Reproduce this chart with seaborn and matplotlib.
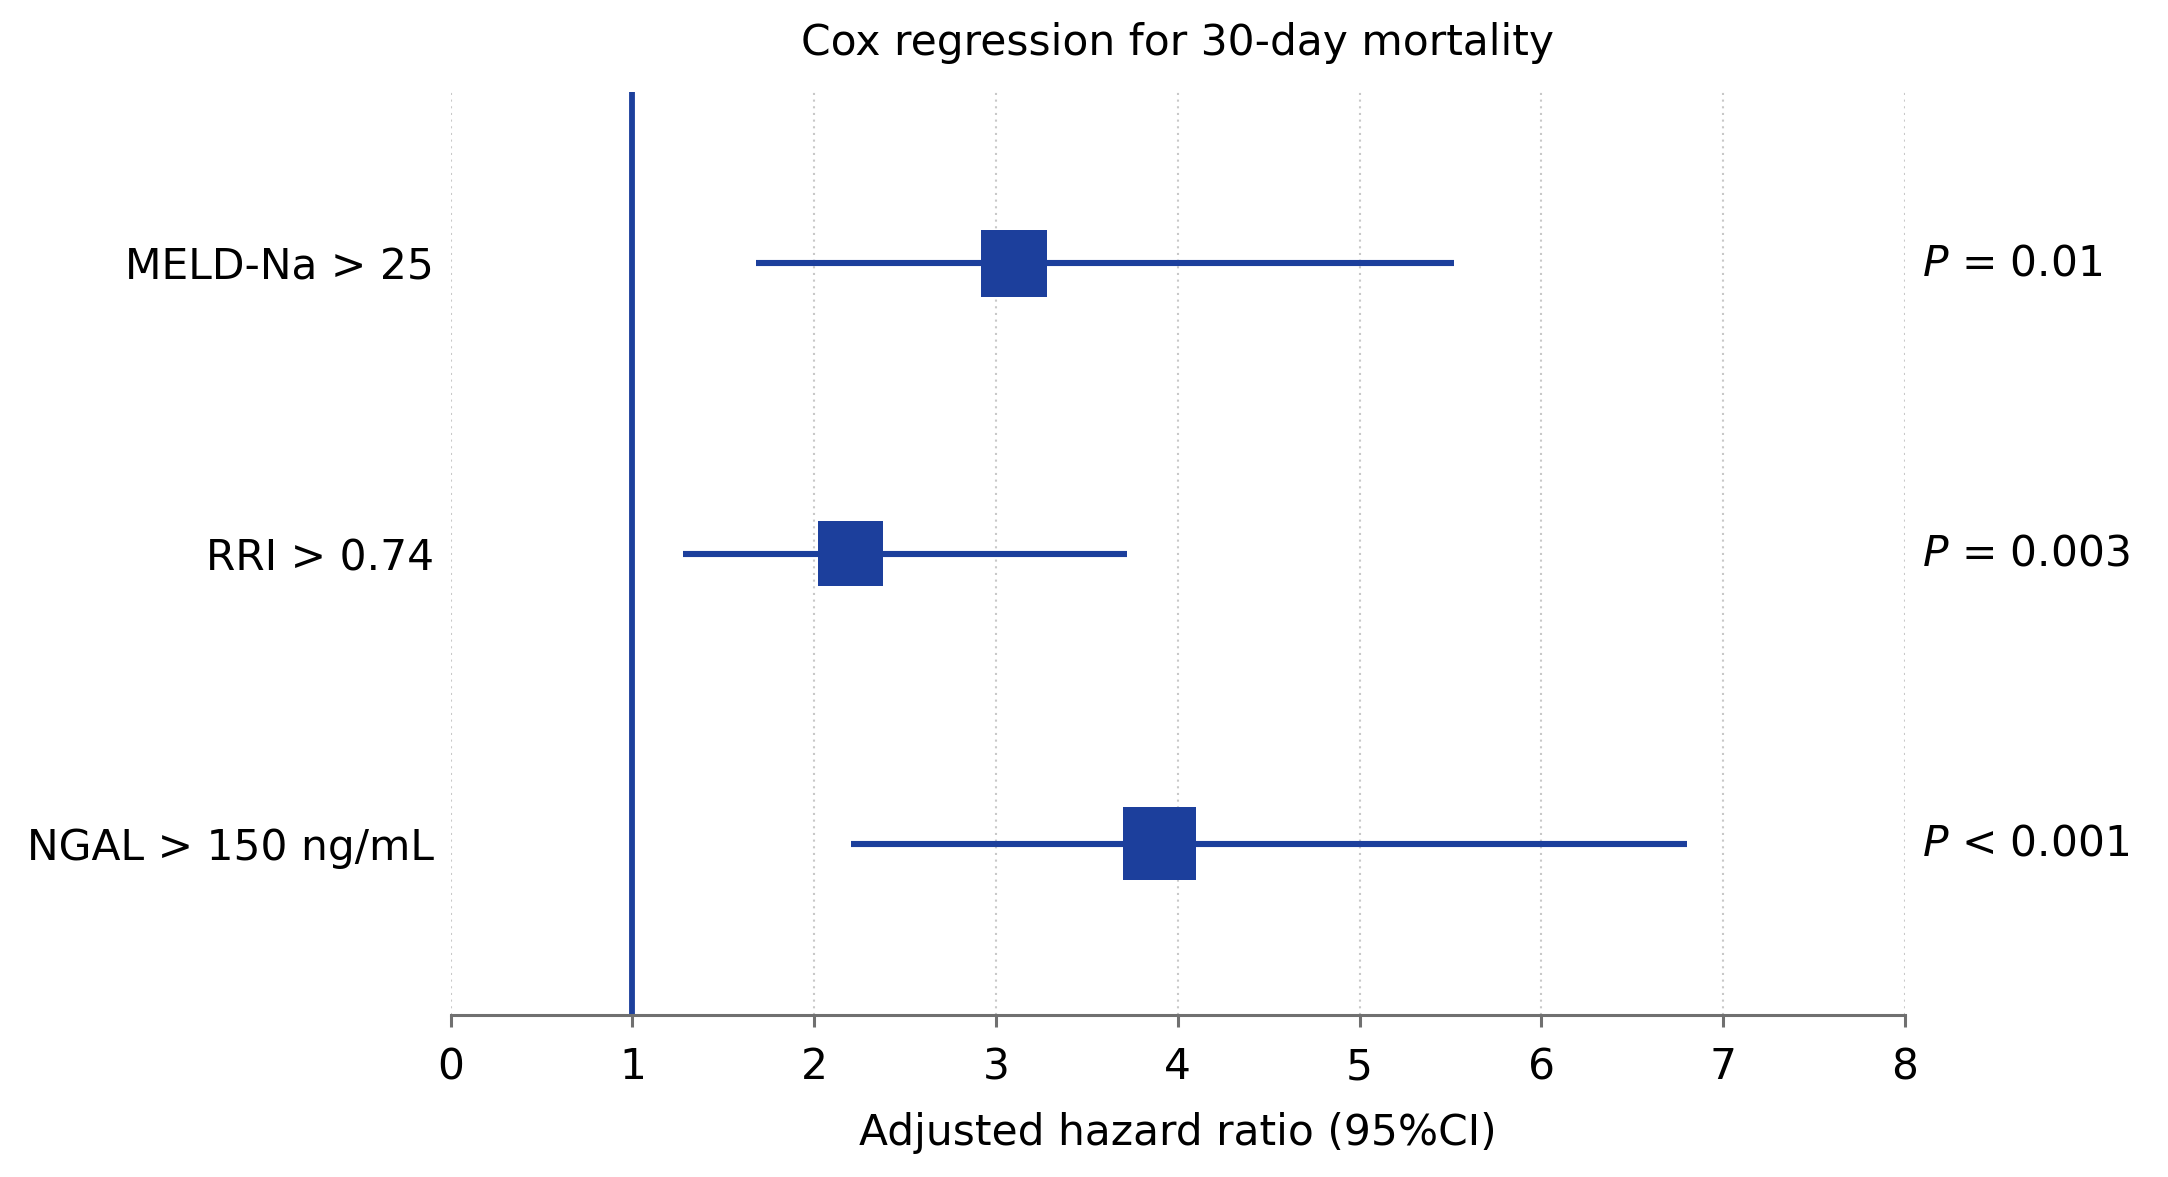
import numpy as np
import pandas as pd
import matplotlib
matplotlib.use("Agg")
import matplotlib.pyplot as plt
import seaborn as sns

# values
labels = ["MELD-Na > 25", "RRI > 0.74", "NGAL > 150 ng/mL"]
hazard_ratio = [3.10, 2.20, 3.90]
ci_low = [1.68, 1.28, 2.20]
ci_high = [5.52, 3.72, 6.80]
p_values = ["= 0.01", "= 0.003", "< 0.001"]
x_ticks = [0, 1, 2, 3, 4, 5, 6, 7, 8]

df = pd.DataFrame({
    "label": labels,
    "hr": hazard_ratio,
    "low": ci_low,
    "high": ci_high,
    "p": p_values,
})
df["pos"] = np.arange(len(df))

sns.set_style("white")
plt.rcParams["font.family"] = ["DejaVu Sans"]
plt.rcParams["font.size"] = 30.5
plt.rcParams["mathtext.fontset"] = "dejavusans"
plt.rcParams["text.color"] = "black"
plt.rcParams["axes.labelcolor"] = "black"
plt.rcParams["xtick.color"] = "black"
plt.rcParams["ytick.color"] = "black"

blue = "#1c3f9c"
box_side = [48, 47, 52.5]  # marker side in points

fig = plt.figure(figsize=(21.68, 11.77), dpi=100)
ax = fig.add_axes([0.2078, 0.1376, 0.6709, 0.7842])

for xt in x_ticks:
    ax.axvline(xt, color="#c8c8c8", lw=1.5, ls=(0, (1, 2.2)), zorder=0)

ax.axvline(1, color=blue, lw=4.2, zorder=2)
ax.hlines(df["pos"], df["low"], df["high"], color=blue, lw=4.4, zorder=3)

sns.scatterplot(data=df, x="hr", y="pos", marker="s", color=blue,
                s=np.square(box_side), linewidth=0, zorder=4, ax=ax, legend=False)

for _, row in df.iterrows():
    ax.text(1.0117, row["pos"], r"$\mathit{P}$ " + row["p"], transform=ax.get_yaxis_transform(),
            ha="left", va="center", color="black")

ax.set_xlim(0, 8)
ax.set_ylim(2.59, -0.59)
ax.set_xticks(x_ticks)
ax.set_yticks(df["pos"])
ax.set_yticklabels(df["label"])
ax.set_xlabel("Adjusted hazard ratio (95%CI)", labelpad=17)
ax.set_ylabel("")
ax.set_title("Cox regression for 30-day mortality", pad=27, fontsize=30.5, color="black")

for side in ["top", "right", "left"]:
    ax.spines[side].set_visible(False)
ax.spines["bottom"].set_color("#707070")
ax.spines["bottom"].set_linewidth(2.2)
ax.tick_params(axis="x", bottom=True, direction="out", length=8.5, width=2.2,
               color="#707070", labelcolor="black", pad=14)
ax.tick_params(axis="y", left=False, length=0, pad=12, labelcolor="black")
ax.grid(False)

fig.savefig("out.png", dpi=100)
